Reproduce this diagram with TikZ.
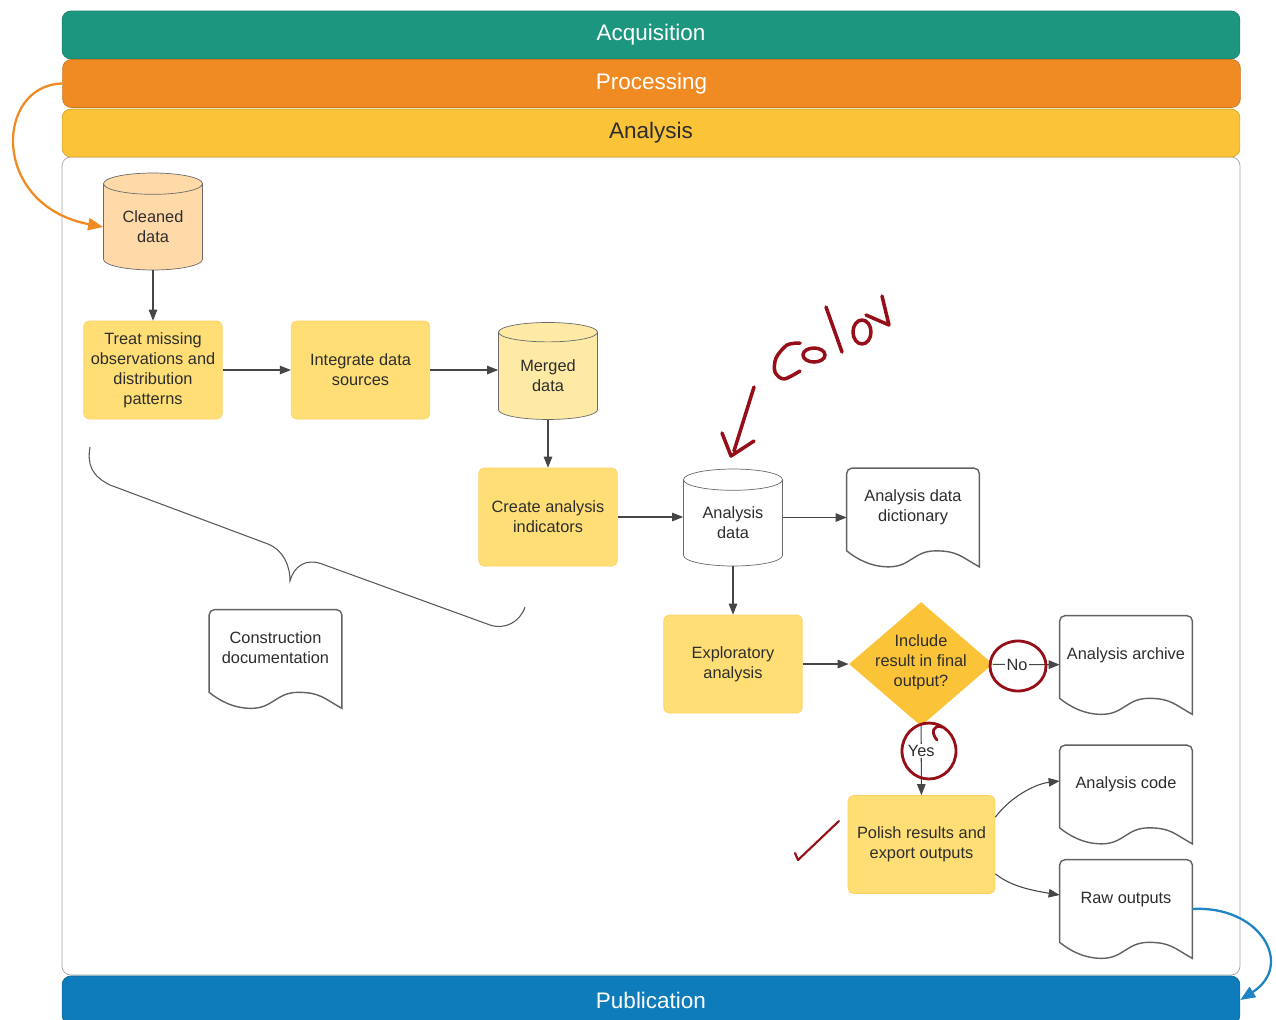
\documentclass[tikz,border=0pt]{standalone}
\usepackage{fontspec}
\setmainfont{Liberation Sans}
\definecolor{AcqTeal}{RGB}{28,150,126}
\definecolor{ProcOrange}{RGB}{240,139,35}
\definecolor{AnaYellow}{RGB}{251,195,56}
\definecolor{PubBlue}{RGB}{14,123,186}
\definecolor{BoxYellow}{RGB}{255,223,117}
\definecolor{MergeYellow}{RGB}{255,234,165}
\definecolor{CleanPeach}{RGB}{255,218,168}
\definecolor{LineGray}{RGB}{70,70,70}
\definecolor{TextDark}{RGB}{45,45,45}
\definecolor{FrameGray}{RGB}{165,165,165}
\definecolor{PenRed}{RGB}{150,14,24}
\definecolor{LinkBlue}{RGB}{30,132,196}
\usetikzlibrary{shapes.geometric, arrows.meta, positioning, calc}

% centred text that does not widen its node
\newcommand\doctext[2][0.12cm]{\raisebox{#1}[0pt][0pt]{\makebox[0pt]{\begin{tabular}{@{}c@{}}#2\end{tabular}}}}

\begin{document}
\begin{tikzpicture}[x=0.02cm, y=-0.02cm,
        every node/.style={text=TextDark, font=\fontsize{9.3}{11.4}\selectfont},
        band/.style={fill=#1, draw=#1!85!black, rounded corners=5pt, inner sep=0pt,
                     minimum width=23.56cm, minimum height=0.96cm,
                     text=white, font=\fontsize{12.8}{15}\selectfont},
        proc/.style={fill=BoxYellow, draw=BoxYellow!85!orange, rounded corners=3pt,
                     minimum width=2.77cm, minimum height=1.96cm, align=center, inner sep=2pt},
        store/.style={cylinder, shape border rotate=90, aspect=0.35, draw=LineGray!80,
                      cylinder uses custom fill, cylinder body fill=#1, cylinder end fill=#1,
                      minimum width=1.98cm, minimum height=1.94cm, inner sep=0pt, align=center},
        doc/.style={rectangle, minimum width=2.64cm, minimum height=1.96cm, inner sep=0pt},
        docline/.style={draw=LineGray!85, line width=0.8pt},
        decide/.style={diamond, fill=AnaYellow, minimum width=2.88cm, minimum height=2.48cm, inner sep=0pt},
        arr/.style={-{Triangle[length=0.22cm,width=0.17cm]}, LineGray, line width=0.6pt},
        bigarr/.style={-{Triangle[length=0.3cm,width=0.24cm]}, line width=1.3pt},
        pen/.style={PenRed, line width=2pt, line cap=round, line join=round}
      ]
        \useasboundingbox (0,0) rectangle (1276,1019);

        % frame and phase bands
        \draw[FrameGray, fill=white, rounded corners=5pt] (62,157) rectangle (1240,975);
        \node[band=AcqTeal] (acq) at (651,35) {Acquisition};
        \node[band=ProcOrange] (proc) at (651.5,83.5) {Processing};
        \node[band=AnaYellow, text=TextDark] (ana) at (651,133) {Analysis};
        \node[band=PubBlue] (pub) at (651,1000) {Publication};

        % steps
        \node[store=CleanPeach] (cleaned) at (153,227) {Cleaned\\data};
        \node[proc] (treat) at (153,370) {Treat missing\\observations and\\distribution\\patterns};
        \node[proc] (integrate) at (360.5,370) {Integrate data\\sources};
        \node[store=MergeYellow] (merged) at (548,376) {Merged\\data};
        \node[proc] (indicators) at (548,517) {Create analysis\\indicators};
        \node[store=white] (anadata) at (733,523) {Analysis\\data};
        \node[doc] (dictdoc) at (913,517.5) {\doctext{Analysis data\\dictionary}};
        \node[proc] (explore) at (733,664) {Exploratory\\analysis};
        \node[decide] (include) at (921,664) {\doctext[-0.05cm]{Include\\result in final\\output?}};
        \node[doc] (archivedoc) at (1126,665) {\doctext{Analysis archive}};
        \node[proc, minimum width=2.94cm] (polish) at (921.5,844.5) {Polish results and\\export outputs};
        \node[doc] (codedoc) at (1126,794.5) {\doctext{Analysis code}};
        \node[doc] (rawdoc) at (1126,909) {\doctext{Raw outputs}};
        \node[doc] (consdoc) at (275.5,659) {\doctext{Construction\\documentation}};

        % document outlines
        \foreach \n in {dictdoc,archivedoc,codedoc,rawdoc,consdoc}
          \draw[docline] ($(\n.south west)+(0,-16)$) [rounded corners=3pt] -- (\n.north west)
            -- (\n.north east) [sharp corners] -- (\n.south east)
            .. controls +(-18,-10) and +(22,0) .. ($(\n.south west)+(89,-16)$)
            .. controls +(-22,0) and +(22,0) .. ($(\n.south west)+(42,0)$)
            .. controls +(-18,0) and +(10,8) .. ($(\n.south west)+(0,-16)$) -- cycle;

        % brace
        \draw[LineGray!90, line width=0.6pt] (90,447) .. controls (87,465) and (92,476) .. (110,485)
          -- (268,544) .. controls (283,550) and (290,565) .. (290,581)
          .. controls (294,566) and (306,558) .. (322,564)
          -- (490,625) .. controls (505,630) and (520,622) .. (525,607);

        % flow
        \draw[arr] (cleaned) -- (treat);
        \draw[arr] (treat) -- (integrate);
        \draw[arr] (integrate) -- (merged.west |- integrate);
        \draw[arr] (merged) -- (indicators);
        \draw[arr] (indicators) -- (anadata.west |- indicators);
        \draw[arr] (anadata.east |- dictdoc) -- (dictdoc);
        \draw[arr] (anadata) -- (explore);
        \draw[arr] (explore) -- (include);
        \draw[arr] (include) -- node[fill=white, inner sep=1pt, pos=0.36] (nolbl) {No} (archivedoc);
        \draw[arr] (include) -- node[fill=white, inner sep=1pt, pos=0.36] (yeslbl) {Yes} (polish);
        \draw[arr] ([yshift=-0.44cm]polish.north east) .. controls +(15,-20) and +(-25,3) .. ([yshift=0.27cm]codedoc.west);
        \draw[arr] ([yshift=0.4cm]polish.south east) .. controls +(15,12) and +(-30,-5) .. ([yshift=0.28cm]rawdoc.west);

        % links between phases
        \draw[bigarr, ProcOrange] (proc.west) .. controls (-5,85) and (-10,205) .. (cleaned.west);
        \draw[bigarr, LinkBlue] (rawdoc.east) .. controls (1260,905) and (1295,965) .. (pub.east);

        % handwritten marks
        \draw[pen] (754,387) -- (734,451);
        \draw[pen] (722,433) -- (731,456) -- (754,441);
        \draw[pen] plot[smooth] coordinates {(800,343) (787,345) (776,358) (775,372) (784,379) (800,371)};
        \draw[pen] (814,355) ellipse [x radius=11, y radius=7];
        \draw[pen] (826,307) -- (842,352);
        \draw[pen] (862,332) ellipse [x radius=9, y radius=12];
        \draw[pen] (866,315) -- (889,325) -- (882,296);
        \draw[pen, line width=1.6pt] (1018,666) ellipse [x radius=28, y radius=25];
        \draw[pen, line width=1.6pt] (929,751) ellipse [x radius=27, y radius=28];
        \draw[pen, line width=1.6pt] (937,740) .. controls (930,732) and (934,724) .. (942,727);
        \draw[pen, line width=1.2pt] (839,821) -- (798,860) -- (795,853);
      \end{tikzpicture}
\end{document}
